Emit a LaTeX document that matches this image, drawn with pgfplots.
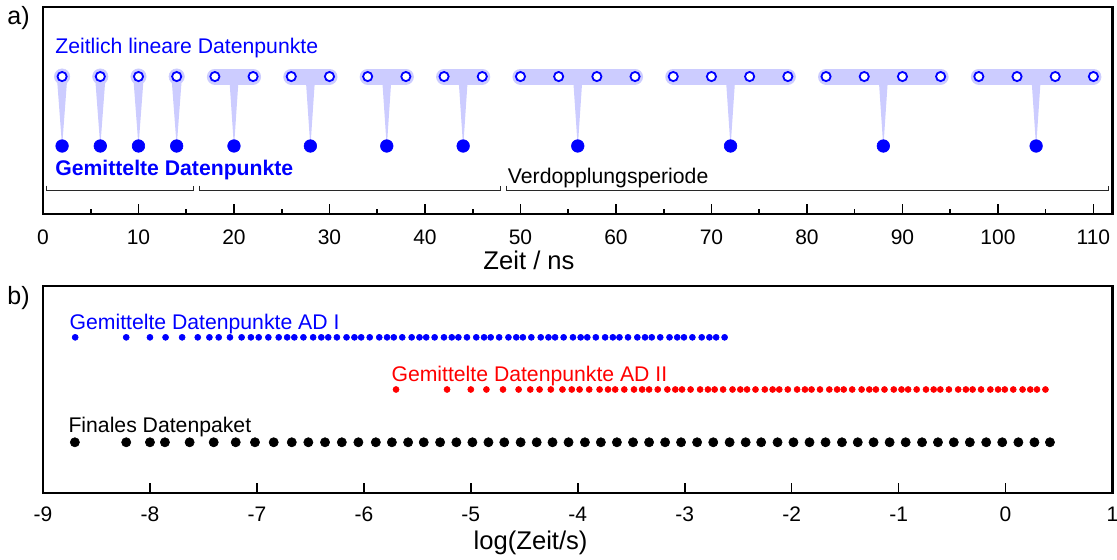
\documentclass[border=0pt]{standalone}
\usepackage{fontspec}
\setmainfont{Liberation Sans}
\usepackage{pgfplots}
\pgfplotsset{compat=1.18}
\usepackage{pgfplotstable}

\definecolor{lav}{RGB}{204,204,255}
\definecolor{brk}{RGB}{40,40,40}

% linear raw data points (top panel)
\pgfplotstableread{
x y
2 0.664
6 0.664
10 0.664
14 0.664
18 0.664
22 0.664
26 0.664
30 0.664
34 0.664
38 0.664
42 0.664
46 0.664
50 0.664
54 0.664
58 0.664
62 0.664
66 0.664
70 0.664
74 0.664
78 0.664
82 0.664
86 0.664
90 0.664
94 0.664
98 0.664
102 0.664
106 0.664
110 0.664
}\linpts

% averaged data points (top panel)
\pgfplotstableread{
x y
2 0.3285
6 0.3285
10 0.3285
14 0.3285
20 0.3285
28 0.3285
36 0.3285
44 0.3285
56 0.3285
72 0.3285
88 0.3285
104 0.3285
}\avgpts

% averaged data points, AD I
\pgfplotstableread{
x y
-8.699 0.752
-8.222 0.752
-8.000 0.752
-7.854 0.752
-7.699 0.752
-7.553 0.752
-7.444 0.752
-7.357 0.752
-7.252 0.752
-7.143 0.752
-7.056 0.752
-6.983 0.752
-6.893 0.752
-6.796 0.752
-6.717 0.752
-6.650 0.752
-6.565 0.752
-6.474 0.752
-6.398 0.752
-6.333 0.752
-6.252 0.752
-6.162 0.752
-6.088 0.752
-6.025 0.752
-5.945 0.752
-5.856 0.752
-5.783 0.752
-5.720 0.752
-5.641 0.752
-5.553 0.752
-5.480 0.752
-5.417 0.752
-5.338 0.752
-5.251 0.752
-5.178 0.752
-5.116 0.752
-5.036 0.752
-4.949 0.752
-4.876 0.752
-4.814 0.752
-4.735 0.752
-4.648 0.752
-4.575 0.752
-4.513 0.752
-4.434 0.752
-4.346 0.752
-4.274 0.752
-4.212 0.752
-4.132 0.752
-4.045 0.752
-3.973 0.752
-3.911 0.752
-3.831 0.752
-3.744 0.752
-3.672 0.752
-3.610 0.752
-3.530 0.752
-3.443 0.752
-3.371 0.752
-3.308 0.752
-3.229 0.752
-3.142 0.752
-3.070 0.752
-3.007 0.752
-2.928 0.752
-2.841 0.752
-2.769 0.752
-2.706 0.752
-2.627 0.752
}\adone

% averaged data points, AD II
\pgfplotstableread{
x y
-5.699 0.5
-5.222 0.5
-5.000 0.5
-4.854 0.5
-4.699 0.5
-4.553 0.5
-4.444 0.5
-4.357 0.5
-4.252 0.5
-4.143 0.5
-4.056 0.5
-3.983 0.5
-3.893 0.5
-3.796 0.5
-3.717 0.5
-3.650 0.5
-3.565 0.5
-3.474 0.5
-3.398 0.5
-3.333 0.5
-3.252 0.5
-3.162 0.5
-3.088 0.5
-3.025 0.5
-2.945 0.5
-2.856 0.5
-2.783 0.5
-2.720 0.5
-2.641 0.5
-2.553 0.5
-2.480 0.5
-2.417 0.5
-2.338 0.5
-2.251 0.5
-2.178 0.5
-2.116 0.5
-2.036 0.5
-1.949 0.5
-1.876 0.5
-1.814 0.5
-1.735 0.5
-1.648 0.5
-1.575 0.5
-1.513 0.5
-1.434 0.5
-1.346 0.5
-1.274 0.5
-1.212 0.5
-1.132 0.5
-1.045 0.5
-0.973 0.5
-0.911 0.5
-0.831 0.5
-0.744 0.5
-0.672 0.5
-0.610 0.5
-0.530 0.5
-0.443 0.5
-0.371 0.5
-0.308 0.5
-0.229 0.5
-0.142 0.5
-0.070 0.5
-0.007 0.5
0.072 0.5
0.159 0.5
0.231 0.5
0.294 0.5
0.373 0.5
}\adtwo

% final data package
\pgfplotstableread{
x y
-8.702 0.245
-8.222 0.245
-8.000 0.245
-7.860 0.245
-7.629 0.245
-7.404 0.245
-7.198 0.245
-7.018 0.245
-6.843 0.245
-6.674 0.245
-6.519 0.245
-6.363 0.245
-6.206 0.245
-6.051 0.245
-5.888 0.245
-5.738 0.245
-5.586 0.245
-5.440 0.245
-5.287 0.245
-5.135 0.245
-4.985 0.245
-4.835 0.245
-4.687 0.245
-4.534 0.245
-4.384 0.245
-4.236 0.245
-4.086 0.245
-3.933 0.245
-3.784 0.245
-3.634 0.245
-3.483 0.245
-3.333 0.245
-3.183 0.245
-3.034 0.245
-2.884 0.245
-2.733 0.245
-2.580 0.245
-2.430 0.245
-2.285 0.245
-2.132 0.245
-1.983 0.245
-1.833 0.245
-1.683 0.245
-1.530 0.245
-1.382 0.245
-1.234 0.245
-1.084 0.245
-0.934 0.245
-0.781 0.245
-0.632 0.245
-0.484 0.245
-0.334 0.245
-0.181 0.245
-0.031 0.245
0.120 0.245
0.270 0.245
0.415 0.245
}\final

\pgfplotsset{
  panel/.style={
    scale only axis, width=534.75pt, height=103.5pt,
    anchor=south west,
    ymin=0, ymax=1, ytick=\empty,
    xtick pos=bottom, tick align=inside,
    axis line style={line width=1.2pt},
    every tick/.style={line width=0.8pt, black},
    major tick length=5pt, minor tick length=2.5pt,
    xticklabel style={font=\fontsize{10.5}{12}\selectfont, anchor=base},
    clip=false,
  },
  stem/.style={fill=lav, draw=none, forget plot},
  pill/.style={lav, line width=8pt, line cap=round, forget plot},
  bracket/.style={brk, line width=0.6pt, forget plot},
  dots/.style={only marks, mark=*, #1, mark options={draw=#1, fill=#1, line width=0.3pt}},
}

\newcommand{\ann}{\fontsize{10.6}{12}\selectfont}

\begin{document}
\begin{tikzpicture}
% ---------- a) linear time axis ----------
\begin{axis}[panel, at={(21.5pt,173pt)},
  xmin=0, xmax=112,
  xtick={0,10,...,110},
  xticklabels={0,10,20,30,40,50,60,70,80,90,100,110},
  minor x tick num=1,
  xticklabel style={yshift=-15.1pt},
]
% stems from the averaging groups to the averaged points
\addplot[stem] coordinates {(1.45,0.664)(2.55,0.664)(2.06,0.362)(1.94,0.362)} -- cycle;
\addplot[stem] coordinates {(5.45,0.664)(6.55,0.664)(6.06,0.362)(5.94,0.362)} -- cycle;
\addplot[stem] coordinates {(9.45,0.664)(10.55,0.664)(10.06,0.362)(9.94,0.362)} -- cycle;
\addplot[stem] coordinates {(13.45,0.664)(14.55,0.664)(14.06,0.362)(13.94,0.362)} -- cycle;
\addplot[stem] coordinates {(19.5,0.664)(20.5,0.664)(20.06,0.362)(19.94,0.362)} -- cycle;
\addplot[stem] coordinates {(27.5,0.664)(28.5,0.664)(28.06,0.362)(27.94,0.362)} -- cycle;
\addplot[stem] coordinates {(35.5,0.664)(36.5,0.664)(36.06,0.362)(35.94,0.362)} -- cycle;
\addplot[stem] coordinates {(43.5,0.664)(44.5,0.664)(44.06,0.362)(43.94,0.362)} -- cycle;
\addplot[stem] coordinates {(55.5,0.664)(56.5,0.664)(56.06,0.362)(55.94,0.362)} -- cycle;
\addplot[stem] coordinates {(71.5,0.664)(72.5,0.664)(72.06,0.362)(71.94,0.362)} -- cycle;
\addplot[stem] coordinates {(87.5,0.664)(88.5,0.664)(88.06,0.362)(87.94,0.362)} -- cycle;
\addplot[stem] coordinates {(103.5,0.664)(104.5,0.664)(104.06,0.362)(103.94,0.362)} -- cycle;
% single-point groups
\addplot[dots=lav, mark size=3.85pt, forget plot]
  coordinates {(2,0.664)(6,0.664)(10,0.664)(14,0.664)};
% multi-point groups
\addplot[pill] coordinates {(18,0.664)(22,0.664)};
\addplot[pill] coordinates {(26,0.664)(30,0.664)};
\addplot[pill] coordinates {(34,0.664)(38,0.664)};
\addplot[pill] coordinates {(42,0.664)(46,0.664)};
\addplot[pill] coordinates {(50,0.664)(62,0.664)};
\addplot[pill] coordinates {(66,0.664)(78,0.664)};
\addplot[pill] coordinates {(82,0.664)(94,0.664)};
\addplot[pill] coordinates {(98,0.664)(110,0.664)};
% brackets of the doubling periods
\addplot[bracket] coordinates {(0.4,0.137)(0.4,0.113)(15.8,0.113)(15.8,0.137)};
\addplot[bracket] coordinates {(16.35,0.137)(16.35,0.113)(47.95,0.113)(47.95,0.137)};
\addplot[bracket] coordinates {(48.5,0.137)(48.5,0.113)(111.6,0.113)(111.6,0.137)};
% points
\addplot[dots=blue, mark size=3.15pt] table {\avgpts};
\addplot[only marks, mark=*, blue, mark size=2.3pt, mark options={draw=blue, fill=white, line width=0.9pt}] table {\linpts};
% labels
\node[anchor=base west, inner sep=0, blue, font=\ann] at (axis cs:1.25,0.776) {Zeitlich lineare Datenpunkte};
\node[anchor=base west, inner sep=0, blue, font=\ann\bfseries] at (axis cs:1.25,0.188) {Gemittelte Datenpunkte};
\node[anchor=base west, inner sep=0, black, font=\ann] at (axis cs:48.65,0.145) {Verdopplungsperiode};
\end{axis}

% ---------- b) logarithmic time axis ----------
\begin{axis}[panel, at={(21.5pt,33.5pt)},
  xmin=-9, xmax=1,
  xtick={-9,-8,...,1},
  xticklabels={-9,-8,-7,-6,-5,-4,-3,-2,-1,0,1},
  xticklabel style={yshift=-14.4pt},
]
\addplot[dots=blue, mark size=1.5pt] table {\adone};
\addplot[dots=red, mark size=1.5pt] table {\adtwo};
\addplot[dots=black, mark size=2.3pt] table {\final};
\node[anchor=base west, inner sep=0, blue, font=\ann] at (axis cs:-8.755,0.791) {Gemittelte Datenpunkte AD I};
\node[anchor=base west, inner sep=0, red, font=\ann] at (axis cs:-5.745,0.541) {Gemittelte Datenpunkte AD II};
\node[anchor=base west, inner sep=0, black, font=\ann] at (axis cs:-8.765,0.293) {Finales Datenpaket};
\end{axis}

% panel letters and axis titles
\node[anchor=base west, inner sep=0, font=\fontsize{12.5}{14}\selectfont] at (3.5pt,267.5pt) {a)};
\node[anchor=base west, inner sep=0, font=\fontsize{12.5}{14}\selectfont] at (3.5pt,127.5pt) {b)};
\node[anchor=base, inner sep=0, font=\fontsize{12.8}{15}\selectfont] at (264.5pt,145pt) {Zeit / ns};
\node[anchor=base, inner sep=0, font=\fontsize{12.8}{15}\selectfont] at (265.3pt,5.4pt) {log(Zeit/s)};

\pgfresetboundingbox
\path[use as bounding box] (0,0) rectangle (558.5pt,280pt);
\end{tikzpicture}
\end{document}
